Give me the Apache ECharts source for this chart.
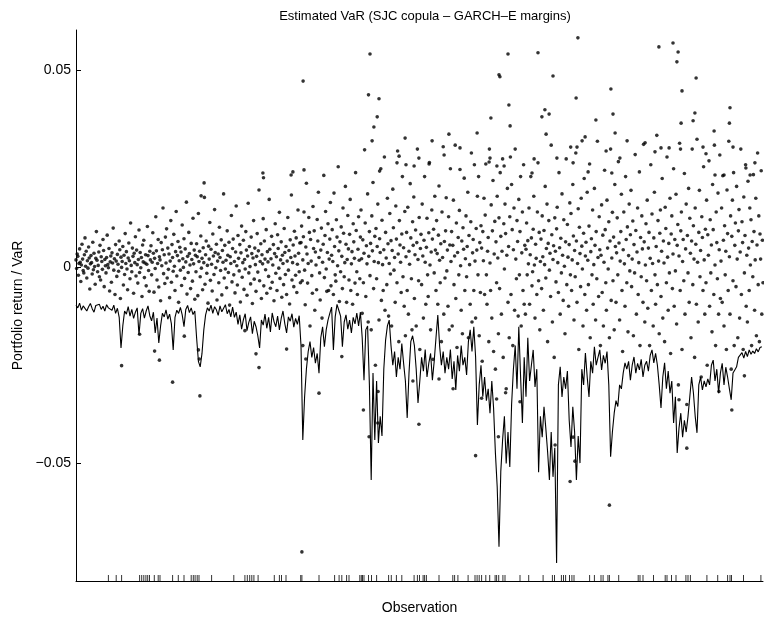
<!DOCTYPE html>
<html>
<head>
<meta charset="utf-8">
<title>Estimated VaR</title>
<script src="https://cdn.jsdelivr.net/npm/echarts@6/dist/echarts.min.js"></script>
<style>
  html, body { margin: 0; padding: 0; background: #fff; }
  #chart { width: 764px; height: 624px; }
</style>
</head>
<body>
<div id="chart"></div>
<script>
// values in basis points (1e-4)
const varStep = 6;      // observations between VaR readings
const retStep = 2;      // observations between return readings
const obsMax = 2290;

const varBp = [
  -97,-104,-92,-110,-99,-95,-112,-101,-93,-106,-115,-98,-103,-95,-108,-100,-112,-96,-104,-99,
  -110,-97,-118,-105,-128,-206,-150,-112,-120,-101,-125,-108,-131,-115,-104,-173,
  -118,-106,-130,-112,-99,-124,-137,-115,-168,-130,-193,-150,-118,-127,-109,-133,-120,-145,-211,
  -128,-110,-118,-103,-122,-152,-108,-98,-116,-104,-121,-112,-180,-240,-254,-220,-160,-122,
  -104,-112,-97,-118,-101,-109,-123,-99,-114,-105,-96,-119,-108,-127,-102,
  -128,-115,-146,-122,-158,-134,-119,-162,-141,-127,-170,-138,-152,-175,-206,
  -135,-148,-120,-156,-128,-165,-117,-139,-152,-125,-160,-131,-112,-144,-168,-127,-138,-119,-153,-131,-146,-124,
  -200,-440,-330,-260,-215,-190,-230,-205,-245,-220,-270,-180,-152,-203,-160,-135,
  -118,-102,-211,-127,-95,-110,-125,-203,-140,-122,-158,-135,-168,-128,-145,-117,-150,-115,
  -180,-288,-160,-150,-300,-542,-270,-440,-290,-448,-380,-430,-260,-186,-150,-135,
  -200,-250,-215,-280,-230,-260,-195,-245,-290,-384,-270,-190,-175,-200,-260,-346,-290,
  -230,-265,-210,-280,-245,-220,-288,-240,-180,-122,-200,
  -250,-215,-270,-230,-260,-210,-285,-240,-313,-225,-265,-200,-250,-230,-275,
  -190,-160,-215,-152,-229,-402,-300,-250,-330,-280,-340,-310,-372,-290,-360,
  -473,-560,-712,-520,-440,-380,-500,-420,-509,-350,
  -260,-200,-310,-152,-280,-397,-230,-330,-180,-290,-250,
  -211,-305,-260,-522,-380,-433,-356,-410,-470,-542,-420,-534,-460,-753,
  -300,-254,-331,-280,-310,-265,-390,-458,-356,-420,-542,-430,-499,
  -260,-300,-219,-280,-331,-240,-270,-203,-250,-230,-211,-262,-225,-245,-215,
  -300,-483,-420,-372,-340,-355,-300,-310,-270,-244,
  -260,-240,-288,-250,-229,-270,-245,-262,-235,-280,-250,-240,-265,
  -225,-211,-244,-220,-250,-300,-359,-280,-244,-310,-265,-321,-290,-397,-330,
  -473,-410,-372,-433,-390,-420,-380,-330,-280,-320,-380,-422,
  -300,-280,-313,-290,-305,-285,-300,
  -250,-237,-290,-260,-321,-270,-245,-300,-255,-280,-310,-338,
  -270,-262,-254,-230,-225,-218,-232,-215,-228,-211,-222,-214,-220,-208,-216,-205,-203
];

const returnsBp = [
  18,-4,33,27,-21,9,46,12,-37,5,58,20,-9,-15,31,74,2,40,-28,16,-3,51,23,-56,8,
  29,11,-18,63,-7,35,1,-44,22,90,17,-12,4,38,-25,55,-33,26,14,-6,70,42,-50,19,3,
  -15,24,81,6,-2,47,-61,13,28,-39,36,10,99,-8,21,-70,57,15,-24,32,7,-11,66,44,-80,
  25,-1,14,52,-46,30,-19,85,9,39,-5,-58,23,61,16,-30,112,4,-12,48,27,-67,35,11,77,
  -23,43,6,-41,19,94,-14,37,-2,24,-75,56,13,68,-27,10,31,-48,7,103,29,-9,-62,40,18,
  54,-20,12,87,35,-64,22,-4,128,41,-33,9,70,-51,26,18,-86,62,3,44,150,-17,31,-42,76,
  10,97,-28,48,-6,33,-78,15,118,-39,57,24,-11,83,2,-60,39,141,-23,29,65,-90,16,50,-8,
  38,-47,107,21,-1,72,-29,46,13,165,-69,27,-14,88,34,5,-55,60,19,-36,124,8,43,-82,30,
  -12,59,26,-73,136,14,40,-25,79,-3,22,-58,49,11,177,-44,31,66,-16,4,-92,53,20,113,-34,
  45,7,-61,84,28,-19,146,37,-2,58,-84,15,33,-40,101,24,-9,69,-71,42,12,186,-28,55,-5,
  17,-53,92,30,-14,63,-97,26,9,131,-38,47,71,-20,14,-66,38,155,3,-46,80,22,-10,57,-89,
  36,104,-26,11,68,-57,19,-5,90,43,-72,28,162,-15,52,1,-43,76,34,-93,23,118,-31,48,6,
  -62,27,85,-13,41,196,-35,14,59,-80,31,8,123,-48,66,20,-7,95,-67,39,13,-24,172,45,-54,
  21,78,-39,5,57,-86,34,110,-16,26,-60,82,47,-3,139,-29,18,64,-77,30,9,-45,98,37,-19,
  52,-70,15,126,-8,42,-94,69,24,183,-33,11,56,-50,91,28,-21,74,-65,7,145,35,-12,61,-40,
  62,104,-35,18,77,140,-8,-96,51,213,33,-41,9,126,88,-150,70,15,-22,-67,154,47,92,-110,38,
  5,-58,121,66,190,24,-15,-84,43,99,-130,12,58,233,-27,80,141,-5,-62,37,110,-60,20,71,164,
  -48,30,95,14,-70,188,52,-20,-36,120,76,3,255,41,-88,64,-12,102,27,-55,150,86,-25,11,205,
  58,-90,19,131,46,-33,83,172,-60,8,39,-95,110,64,22,-41,240,93,-12,-70,45,128,17,-30,76,
  145,21,-118,69,-40,35,298,112,-75,54,8,186,-140,27,90,-22,60,-160,130,41,215,-55,14,78,-250,
  98,-30,52,160,11,-135,72,37,250,-85,119,6,-60,44,280,-110,88,23,-45,175,59,-125,9,136,-18,
  67,-150,42,198,100,-8,24,-90,155,71,-40,295,33,-190,118,56,12,-65,84,230,-25,49,-100,141,-175,
  26,88,-60,152,-120,40,7,212,74,-30,-160,115,55,178,-80,31,94,-150,62,300,19,-35,126,-210,47,
  83,-45,160,28,-130,68,230,12,-95,50,124,-20,-75,87,266,5,-160,38,145,71,-235,96,-15,180,43,
  -60,118,34,-95,81,206,17,-40,59,-190,140,24,306,-120,65,-28,92,176,-10,43,-100,128,-160,56,250,
  14,90,-150,55,170,-45,28,310,-80,112,-205,37,75,-20,144,248,3,-110,66,-170,100,45,226,-60,21,
  130,-25,52,190,-180,80,6,-95,115,290,-140,36,70,-60,260,15,-130,98,43,180,-20,230,-175,62,-65,
  105,48,-240,90,16,175,-70,132,262,-20,-95,40,75,-190,300,10,-60,158,-130,92,220,-215,33,116,-260,
  64,-40,180,23,-170,125,-55,240,78,-120,40,275,-230,110,-5,160,85,-310,30,200,-90,52,-180,128,280,
  -70,210,95,-200,44,150,-110,300,20,-30,118,65,-125,172,-20,90,230,-150,36,140,-60,260,-95,55,-120,
  45,112,-20,67,8,150,-95,31,230,74,-48,-12,96,180,5,-130,58,22,-70,140,265,-35,88,-160,14,
  71,-55,130,26,-110,93,6,205,-28,47,160,-190,60,118,-8,35,-75,310,82,-140,19,54,-230,125,40,
  -38,97,152,11,-65,240,49,-120,73,-15,186,30,-85,120,2,-170,64,275,-45,108,25,-100,57,163,-20,
  136,-60,18,210,79,-135,42,-25,290,66,-90,9,148,-210,101,34,-50,175,53,-5,-150,86,225,-70,28,
  63,-110,190,17,-45,104,262,-180,39,72,-20,145,-95,6,200,55,-135,90,-30,320,24,-75,128,44,-200,
  30,158,-65,81,-150,12,246,95,-40,-110,170,48,-5,115,-180,66,300,-85,23,139,-35,76,-160,210,52,
  -90,36,125,-20,268,61,-135,15,90,185,-60,-215,44,140,8,-100,230,70,-40,102,-165,29,160,-10,82,
  195,-50,20,117,-175,57,-15,286,93,-120,38,150,-70,11,242,-200,75,-25,130,46,-90,312,64,-140,5,
  110,-35,170,-105,48,88,-200,22,260,-60,135,9,-150,74,190,-20,-95,52,335,-45,118,15,-170,86,145,
  -75,40,225,-130,66,10,-190,152,98,-40,280,25,-110,60,-15,175,-220,84,130,-55,33,250,-100,70,-10,
  185,-145,55,108,-300,28,315,-60,92,140,-210,14,70,-35,238,-120,46,160,-350,80,-15,200,-90,124,35,
  -180,66,300,-45,105,20,-230,150,58,-95,325,12,-140,88,195,-25,42,-280,128,75,-60,255,18,-120,96,
  -40,170,-250,82,30,270,-100,120,-15,56,-165,210,95,-70,310,5,-200,140,62,-30,188,-120,44,285,-80,
  15,150,-90,232,68,-150,105,-20,40,-210,196,85,-60,320,26,-120,130,-260,78,170,-35,240,-200,55,112,
  -50,205,20,-180,92,146,-130,38,300,-70,115,62,-210,178,-15,80,260,-100,30,-140,218,48,-60,150,5,
  120,-200,65,-25,235,90,-110,18,175,-175,56,290,-45,130,-190,84,20,245,-120,68,-40,170,-150,100,35
];

// isolated points in the tails (observation, basis points)
const tailObs = [
  152,212,262,278,322,361,408,411,413,563,600,610,702,756,766,753,810,886,958,977,1006,1007,
  1123,1143,1257,1210,1332,1352,1402,1408,1432,1480,1647,1778,1663,2036,2186,2228,2143,2010,1657,1597,
  757,980,975,1010,1004,993,987,1012,717,723,760,623,625,427,417,
  1440,1540,1673,1943,1990,2007,2003,2067,2020,2180,2178,2190,2127,2017,2057,2063,
  1410,1413,1590,1667,1783,1790,1443,1447,1383,1553,1563,1577,1567,1687,1697,1649,1670,
  1733,1797,1767,1813,1837,1897,1930,1950,1977,2015,2090,2100,2130,2160,2233,2247,2263,
  1243,1337,1187,1097,1280,1227,1077,1143,1070,1100,1127,1177,1527,1603,1380,1377,1403,1427,1657,1707,1520,1786
];
const tailBp = [
  -251,-171,-214,-237,-293,-176,-211,-234,-328,-162,-221,-256,-209,-200,-234,-725,-321,-228,-364,-432,-397,-317,
  -290,-400,-310,-285,-480,-334,-336,-432,-320,-343,-546,-606,-494,-461,-364,-277,-317,-338,-433,-453,
  473,542,438,428,382,356,321,244,234,242,247,239,227,214,181,
  542,545,583,560,570,547,522,481,448,405,366,305,346,366,372,392,
  489,484,486,430,453,389,412,359,379,382,400,389,338,321,331,305,305,
  374,341,295,277,321,316,293,303,303,300,305,288,234,234,252,234,265,
  338,341,321,328,303,285,282,277,265,260,257,262,275,277,277,267,257,257,265,242,239,239
];

// observations where the return fell below VaR (rug along the bottom)
const exceedObs = [
  108,134,152,212,219,226,233,239,245,261,274,280,322,341,360,384,391,397,404,410,452,526,563,571,579,586,593,607,
  661,678,685,700,749,753,810,862,877,886,902,910,946,951,955,960,975,985,1002,1042,1051,1068,1086,1127,1138,1145,
  1157,1162,1168,1210,1256,1262,1273,1307,1330,1337,1344,1352,1366,1379,1397,1402,1409,1423,1430,1480,1509,1557,
  1588,1595,1618,1625,1632,1645,1653,1660,1712,1728,1750,1757,1773,1778,1809,1874,1880,1890,1925,1964,1970,1985,
  2000,2033,2040,2048,2103,2139,2172,2180,2185,2225,2283
];

const yMin = -0.0799;
const yMax = 0.0603;
const yTicks = [-0.05, 0, 0.05];

const font = '"Liberation Sans", Arial, Helvetica, sans-serif';

const retPoints = returnsBp.map((v, j) => [j * retStep, v / 10000])
  .concat(tailObs.map((o, k) => [o, tailBp[k] / 10000]));
const varLine = varBp.map((v, i) => [i * varStep, v / 10000]);
const rug = exceedObs.map(o => [o, yMin]);

let myChart = echarts.init(document.getElementById('chart'));
myChart.setOption({
  animation: false,
  backgroundColor: '#fff',
  title: {
    text: 'Estimated VaR (SJC copula – GARCH–E margins)',
    left: 420,
    textAlign: 'center',
    top: 5,
    textStyle: { fontFamily: font, fontSize: 13, fontWeight: 'normal', color: '#000' }
  },
  grid: { left: 76, right: 1, top: 30, bottom: 43 },
  xAxis: {
    type: 'value',
    min: 0,
    max: obsMax,
    name: 'Observation',
    nameLocation: 'middle',
    nameGap: 20,
    nameTextStyle: { fontFamily: font, fontSize: 14, color: '#000' },
    axisLine: { onZero: false, lineStyle: { color: '#000', width: 1 } },
    axisTick: { show: false },
    axisLabel: { show: false },
    splitLine: { show: false }
  },
  yAxis: {
    type: 'value',
    min: yMin,
    max: yMax,
    name: 'Portfolio return / VaR',
    nameLocation: 'middle',
    nameGap: 50,
    nameTextStyle: { fontFamily: font, fontSize: 14, color: '#000' },
    axisLine: { show: true, onZero: false, lineStyle: { color: '#000', width: 1 } },
    axisTick: { show: true, inside: true, length: 5, customValues: yTicks, lineStyle: { color: '#000' } },
    axisLabel: {
      customValues: yTicks,
      margin: 5,
      fontFamily: font,
      fontSize: 14,
      color: '#000',
      formatter: function (v) {
        if (Math.abs(v) < 1e-9) return '0';
        return (v < 0 ? '−' : '') + Math.abs(v).toFixed(2);
      }
    },
    splitLine: { show: false }
  },
  series: [
    {
      name: 'Portfolio return',
      type: 'scatter',
      data: retPoints,
      symbol: 'circle',
      symbolSize: 3.6,
      itemStyle: { color: '#000' },
      z: 2
    },
    {
      name: 'VaR',
      type: 'line',
      data: varLine,
      showSymbol: false,
      lineStyle: { color: '#000', width: 1.1 },
      z: 3
    },
    {
      name: 'Exceedances',
      type: 'scatter',
      data: rug,
      symbol: 'rect',
      symbolSize: [1, 6],
      symbolOffset: [0, -3],
      itemStyle: { color: '#000' },
      clip: false,
      z: 4
    }
  ]
});
window.addEventListener('resize', function () {
  myChart.resize();
});
</script>
</body>
</html>
